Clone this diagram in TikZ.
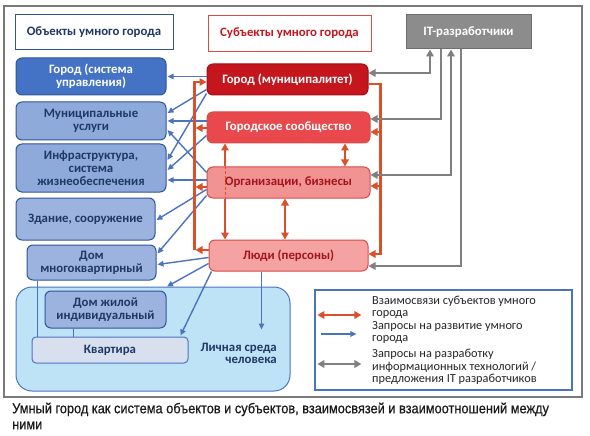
\documentclass[tikz,border=0pt]{standalone}
\usepackage{fontspec}
\setmainfont{Carlito}
\newfontfamily\capfont[FakeStretch=0.9,FakeBold=0.6]{Liberation Sans}
\usetikzlibrary{arrows.meta,calc}
\definecolor{navy}{HTML}{1F3864}
\definecolor{bdark}{HTML}{4472C4}
\definecolor{bdarkline}{HTML}{2F5597}
\definecolor{bmid}{HTML}{8EAADB}
\definecolor{bmid2}{HTML}{9BB3DE}
\definecolor{bline}{HTML}{4A74C0}
\definecolor{blight}{HTML}{BEE3F6}
\definecolor{bpale}{HTML}{D8E0F0}
\definecolor{rdark}{HTML}{C5161D}
\definecolor{rmid}{HTML}{E9494C}
\definecolor{rlight}{HTML}{F29393}
\definecolor{rlight2}{HTML}{F4A3A2}
\definecolor{rline}{HTML}{D94B45}
\definecolor{rtext}{HTML}{A3141C}
\definecolor{orng}{HTML}{D9502B}
\definecolor{gry}{HTML}{808080}
\definecolor{grybox}{HTML}{8C8C8C}
\definecolor{grydark}{HTML}{6E6E6E}
\definecolor{frm}{HTML}{7A7A7A}
\definecolor{captxt}{HTML}{1A1A1A}
\tikzset{
  otip/.tip={Triangle[length=7pt,width=7.5pt]},
  btip/.tip={Triangle[length=6pt,width=5.5pt]},
  box/.style={draw, rounded corners=6pt, line width=1pt, align=center,
    font=\bfseries\fontsize{12.8}{13}\selectfont, inner sep=0pt},
  objA/.style={box, fill=bdark, draw=bdarkline, text=white},
  objB/.style={box, fill=bmid, draw=bdarkline, text=navy},
  objC/.style={box, fill=bmid2, draw=bdarkline, text=navy},
  subA/.style={box, fill=rdark, draw=rdark!80!black, text=white},
  subB/.style={box, fill=rmid, draw=rline, text=white},
  subC/.style={box, fill=rlight, draw=rline, text=rtext},
  subD/.style={box, fill=rlight2, draw=rline, text=rtext},
  hdr/.style={draw, line width=1pt, fill=white, align=center,
    font=\bfseries\fontsize{12.8}{13}\selectfont, inner sep=0pt},
  oline/.style={draw=orng, line width=2.2pt},
  oarr/.style={oline, -{otip}},
  oarr2/.style={oline, {otip}-{otip}},
  barr/.style={draw=bline, line width=1.4pt, -{btip}},
  bconn/.style={draw=bline, line width=1pt},
  garr/.style={draw=gry, line width=2.4pt, -{otip}},
  garr2/.style={draw=gry, line width=2.4pt, {otip}-{otip}},
  legtxt/.style={anchor=west, align=left, text=black!85,
    font=\fontsize{12.3}{12.5}\selectfont, inner sep=0pt},
}
\begin{document}
\begin{tikzpicture}[x=1pt,y=-1pt]
\useasboundingbox[fill=white] (0,0) rectangle (590,436);
\draw[frm, line width=1.2pt] (4,6) rectangle (582,397);

% headers
\node[hdr, draw=bdarkline, text=navy, minimum width=158, minimum height=35] (objh) at (94,32.5) {Объекты умного города};
\node[hdr, draw=rline, text=rdark, minimum width=163, minimum height=36] (subh) at (289.5,33.5) {Субъекты умного города};
\node[hdr, fill=grybox, draw=grydark, text=white, minimum width=125, minimum height=34] (it) at (468.5,32) {IT-разработчики};

% big environment box
\node[box, fill=blight, draw=bline, rounded corners=16pt, minimum width=274, minimum height=104] (big) at (153,339) {};
\node[anchor=east, align=right, text=navy, font=\bfseries\fontsize{12.8}{12}\selectfont, inner sep=0pt] (env) at (277,353.5) {Личная среда\\человека};

% objects
\node[objA, minimum width=150, minimum height=37] (gs) at (91,76.5) {Город (система\\управления)};
\node[objB, minimum width=150, minimum height=38] (mu) at (91,121) {Муниципальные\\услуги};
\node[objB, minimum width=150, minimum height=48] (inf) at (91,168) {Инфраструктура,\\система\\жизнеобеспечения};
\node[objC, minimum width=139, minimum height=42] (zd) at (85.5,219) {Здание, сооружение};
\node[objC, minimum width=129, minimum height=35] (dm) at (91.5,262.5) {Дом\\многоквартирный};
\node[objC, minimum width=121, minimum height=37] (dj) at (105.5,309.5) {Дом жилой\\индивидуальный};
\node[box, fill=bpale, draw=bline, text=navy, rounded corners=4pt, minimum width=156, minimum height=26] (kv) at (110,350) {Квартира};
\draw[bconn] ($(dm.south west)+(11,0)$) -- ($(kv.north west)+(6,0)$);
\draw[bconn] ($(dj.south west)+(29,0)$) -- ($(kv.north west)+(42,0)$);

% subjects
\node[subA, minimum width=161, minimum height=31] (gm) at (287.5,79.5) {Город (муниципалитет)};
\node[subB, minimum width=163, minimum height=31] (gc) at (288.5,127.5) {Городское сообщество};
\node[subC, minimum width=163, minimum height=31] (org) at (288.5,182.5) {Организации, бизнесы};
\node[subD, minimum width=159, minimum height=31] (ppl) at (288.5,255.5) {Люди (персоны)};

% blue request arrows
\draw[barr] ($(gm.west)+(0,-3)$) -- ($(gs.east)+(1,0)$);
\draw[barr] ($(gm.west)+(0,10)$) -- ($(mu.east)+(1,-8)$);
\draw[barr] ($(gm.west)+(0,14)$) -- ($(inf.east)+(1,-8)$);
\draw[barr] ($(gc.west)+(0,-6.5)$) -- ($(mu.east)+(1,0)$);
\draw[barr] ($(gc.west)+(0,8)$) -- ($(inf.east)+(1,2)$);
\draw[barr] ($(org.west)+(0,-10)$) -- ($(mu.east)+(1,9)$);
\draw[barr] ($(org.west)+(0,-2.5)$) -- ($(inf.east)+(1,12)$);
\draw[barr] ($(org.west)+(0,7)$) -- ($(zd.east)+(1,1)$);
\draw[barr] ($(org.west)+(0,13)$) -- ($(dm.east)+(1,-9)$);
\draw[barr] ($(ppl.west)+(0,2)$) -- ($(dm.east)+(1,2)$);
\draw[barr] ($(ppl.west)+(0,8)$) -- ($(big.north)+(14,0)$);
\draw[barr] ($(ppl.south west)+(3,0)$) -- ($(kv.north east)+(-8,-1)$);
\draw[barr] ($(ppl.south)+(-27,0)$) -- ++(0,58);

% orange relations: left bus
\draw[oarr] ($(ppl.west)+(-14,-5.5)$) |- ($(gm.west)+(0,2.5)$);
\draw[oarr] ($(ppl.west)+(0,-5.5)$) -- ++(-13,0);
\draw[oarr] ($(gc.west)+(0,0.5)$) -- ++(-11,0);
\draw[oarr] ($(org.west)+(0,4.5)$) -- ++(-11,0);
% right bus
\draw[oarr] ($(gm.east)+(0,4.5)$) -- ++(12,0) |- ($(ppl.east)+(0,-1.5)$);
\draw[oarr] ($(gc.east)+(10,4.5)$) -- ($(gc.east)+(0,4.5)$);
\draw[oarr] ($(org.east)+(10,3.5)$) -- ($(org.east)+(0,3.5)$);
% vertical relations
\draw[oarr2] ($(gc.south)+(56.5,0)$) -- ($(org.north)+(56.5,0)$);
\draw[oarr2] ($(org.south)+(-3.5,0)$) -- ($(ppl.north)+(-3.5,0)$);
\draw[oline, {otip}-] ($(gc.south)+(-63.5,0)$) -- ($(org.north)+(-63.5,0)$);
\draw[draw=orng, line width=1pt, dash pattern=on 3pt off 2pt] ($(org.north)+(-63.5,0)$) -- ($(org.south)+(-63.5,0)$);
\draw[oarr] ($(org.south)+(-63.5,0)$) -- ($(ppl.north)+(-63.5,0)$);

% gray IT connections
\draw[garr2] ($(it.south)+(-38.5,0)$) |- ($(gm.east)+(0,-6.5)$);
\draw[garr] ($(it.south)+(-27.5,0)$) |- ($(gc.east)+(0,-8.5)$);
\draw[garr2] ($(it.south)+(-17.5,0)$) |- ($(org.east)+(0,-7.5)$);
\draw[garr] ($(it.south)+(-7.5,0)$) |- ($(ppl.east)+(0,10.5)$);

% legend
\node[draw=bline, line width=1.2pt, fill=white, minimum width=257, minimum height=100, inner sep=0pt] (leg) at (443.5,340) {};
\draw[oarr2] ($(leg.west)+(3,-25)$) -- ++(44,0);
\draw[barr] ($(leg.west)+(7,-6)$) -- ++(35,0);
\draw[garr2] ($(leg.west)+(3,24)$) -- ++(44,0);
\node[legtxt] (l1) at (372,307.5) {Взаимосвязи субъектов умного\\города};
\node[legtxt] (l2) at (372,332.5) {Запросы на развитие умного\\города};
\node[legtxt] (l3) at (372,367) {Запросы на разработку\\информационных технологий /\\предложения IT разработчиков};

% caption
\node[anchor=north west, align=left, inner sep=0pt, text=captxt, font=\capfont\fontsize{14.2}{16}\selectfont] (cap) at (12,402.5) {Умный город как система объектов и субъектов, взаимосвязей и взаимоотношений между\\ними};
\end{tikzpicture}
\end{document}
